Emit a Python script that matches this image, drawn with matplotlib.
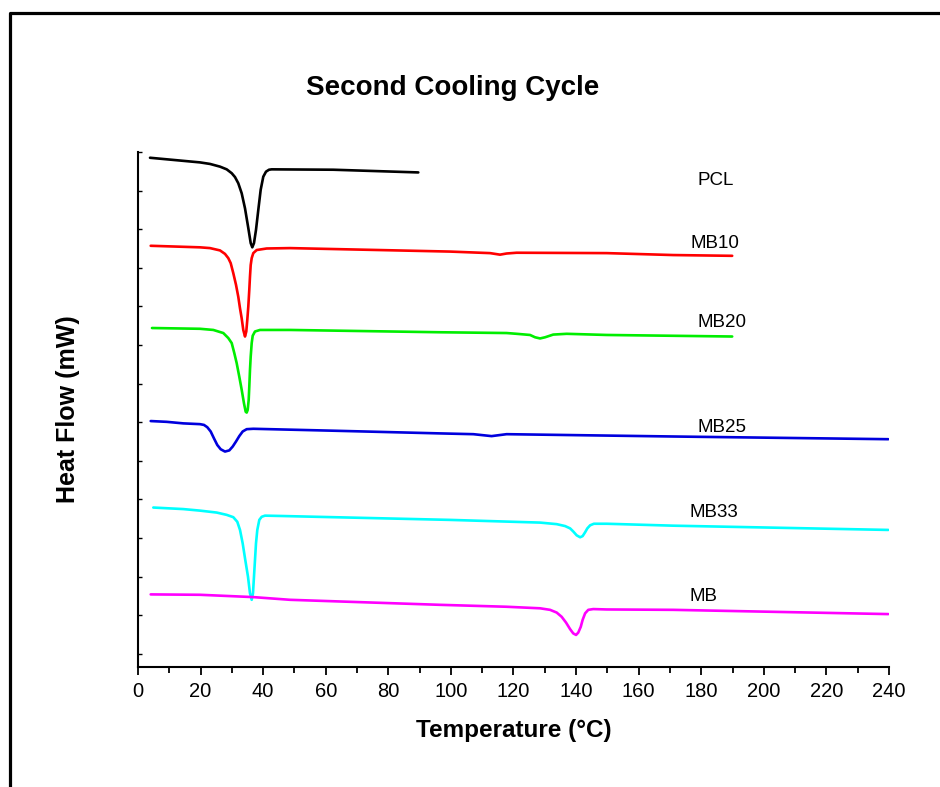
import numpy as np
import matplotlib
matplotlib.use("Agg")
import matplotlib.pyplot as plt
from matplotlib.lines import Line2D

plt.rcParams['font.family'] = ['Liberation Sans', 'DejaVu Sans']

# DSC traces, second cooling cycle (temperature in °C, heat flow in stacked arbitrary units)
pcl_T = [3.84, 19.81, 23.01, 26.21, 28.35, 29.95, 31.0, 32.05, 33.14, 34.20, 35.25,
         36.02, 36.53, 37.07, 37.71, 38.45, 39.21, 40.04, 40.91, 41.87, 42.73, 62.42, 89.58]
pcl_H = [13.19, 13.07, 13.03, 12.96, 12.89, 12.79, 12.69, 12.53, 12.27, 11.88, 11.37,
         10.98, 10.87, 10.98, 11.32, 11.84, 12.36, 12.70, 12.83, 12.88, 12.89, 12.88, 12.81]

mb10_T = [4.06, 19.81, 23.01, 26.21, 27.80, 28.86, 29.63, 30.46, 31.32, 32.05, 32.6,
          33.14, 33.65, 34.20, 34.61, 34.93, 35.25, 35.57, 35.79, 36.02, 36.34, 36.85,
          37.94, 41.13, 48.58, 99.71, 112.5, 114.1, 115.7, 117.8, 121.0, 149.8, 171.0, 189.9]
mb10_H = [10.91, 10.87, 10.85, 10.79, 10.70, 10.59, 10.46, 10.20, 9.90, 9.59, 9.29,
          9.03, 8.73, 8.56, 8.69, 8.99, 9.33, 9.77, 10.11, 10.41, 10.59, 10.72,
          10.80, 10.84, 10.85, 10.76, 10.72, 10.70, 10.68, 10.71, 10.73, 10.72, 10.67, 10.65]

mb20_T = [4.47, 19.81, 24.07, 27.26, 28.86, 29.95, 30.78, 31.54, 32.37, 33.14, 33.87,
          34.42, 34.74, 35.06, 35.38, 35.57, 35.79, 36.02, 36.34, 36.66, 37.39, 38.99,
          48.58, 96.68, 117.8, 121.0, 125.3, 126.9, 128.5, 130.1, 132.7, 137.0, 149.8, 189.9]
mb20_H = [8.78, 8.76, 8.73, 8.65, 8.52, 8.39, 8.13, 7.87, 7.52, 7.18, 6.83,
          6.61, 6.59, 6.66, 6.92, 7.26, 7.69, 8.04, 8.39, 8.58, 8.69, 8.73,
          8.73, 8.67, 8.65, 8.63, 8.60, 8.54, 8.51, 8.54, 8.61, 8.63, 8.60, 8.56]

mb25_T = [4.06, 9.17, 14.48, 19.81, 21.09, 22.15, 23.23, 24.29, 25.34, 26.43, 27.80,
          29.18, 30.27, 31.32, 32.37, 33.46, 34.74, 36.85, 62.42, 96.68, 107.2, 113.0,
          117.8, 171.1, 239.8]
mb25_H = [6.37, 6.35, 6.31, 6.29, 6.27, 6.21, 6.10, 5.92, 5.75, 5.64, 5.58,
          5.61, 5.71, 5.84, 5.98, 6.10, 6.16, 6.17, 6.12, 6.05, 6.03, 5.98,
          6.03, 5.97, 5.90]

mb33_T = [4.89, 14.48, 19.81, 25.15, 28.35, 30.46, 31.74, 32.6, 33.46, 34.29, 35.15,
          35.79, 36.34, 36.75, 37.07, 37.39, 37.71, 38.13, 38.77, 39.53, 40.59, 46.44,
          99.71, 128.5, 133.8, 136.5, 138.1, 139.1, 140.2, 141.3, 142.1, 142.9, 143.6,
          144.5, 145.7, 149.8, 171.1, 239.8]
mb33_H = [4.13, 4.09, 4.05, 4.00, 3.94, 3.88, 3.76, 3.55, 3.20, 2.77, 2.34,
          1.91, 1.74, 1.91, 2.34, 2.77, 3.20, 3.55, 3.81, 3.89, 3.92, 3.91,
          3.81, 3.74, 3.70, 3.65, 3.59, 3.51, 3.41, 3.36, 3.39, 3.49, 3.59,
          3.67, 3.71, 3.71, 3.66, 3.55]

mb_T = [4.06, 19.81, 36.85, 48.58, 96.52, 117.8, 128.5, 131.7, 133.8, 135.4, 136.8,
        138.1, 139.1, 140.0, 140.7, 141.5, 142.1, 142.9, 143.9, 145.5, 149.8, 171.1, 239.8]
mb_H = [1.88, 1.87, 1.81, 1.74, 1.61, 1.56, 1.52, 1.48, 1.41, 1.30, 1.15,
        0.98, 0.87, 0.83, 0.89, 1.04, 1.22, 1.39, 1.48, 1.50, 1.49, 1.48, 1.37]

samples = ["PCL", "MB10", "MB20", "MB25", "MB33", "MB"]
colors = ["#000000", "#ff0000", "#00ee00", "#0000dd", "#00ffff", "#ff00ff"]
temps = [pcl_T, mb10_T, mb20_T, mb25_T, mb33_T, mb_T]
flows = [pcl_H, mb10_H, mb20_H, mb25_H, mb33_H, mb_H]
label_x = [178.9, 176.6, 178.9, 178.9, 176.1, 176.1]
label_y = [12.60, 10.98, 8.93, 6.21, 4.01, 1.83]

fig = plt.figure(figsize=(9.4, 7.87), dpi=100)
ax = fig.add_axes([0.1468, 0.1525, 0.7989, 0.6544])

for T, H, c in zip(temps, flows, colors):
    ax.plot(T, H, color=c, lw=1.9, solid_joinstyle='round', solid_capstyle='round')

for name, x, y in zip(samples, label_x, label_y):
    ax.text(x, y, name, fontsize=13.5, ha='left', va='center')

ax.set_xlim(0, 240)
ax.set_ylim(0, 13.34)
ax.set_xticks(np.arange(0, 241, 20))
ax.set_xticks(np.arange(10, 240, 20), minor=True)
ax.set_yticks(np.arange(13.34, 0, -1.0))
ax.set_yticklabels([])
ax.tick_params(axis='x', direction='out', length=6, width=1.3, labelsize=14.5, pad=5)
ax.tick_params(axis='x', which='minor', direction='out', length=4, width=1.3)
ax.tick_params(axis='y', direction='in', length=3, width=1.0)

for side in ['top', 'right']:
    ax.spines[side].set_visible(False)
for side in ['left', 'bottom']:
    ax.spines[side].set_linewidth(1.5)

ax.set_xlabel("Temperature (°C)", fontsize=17.5, fontweight='bold', labelpad=13)
ax.set_ylabel("Heat Flow (mW)", fontsize=18, fontweight='bold', labelpad=38)
fig.text(0.481, 0.888, "Second Cooling Cycle", fontsize=20, fontweight='bold',
         ha='center', va='center')

# page frame along the top and left edges
fig.add_artist(Line2D([10 / 940, 10 / 940, 1.0], [0.0, 1 - 13 / 787, 1 - 13 / 787],
                      transform=fig.transFigure, color='black', lw=2.3))

fig.savefig("out.png", dpi=100)
